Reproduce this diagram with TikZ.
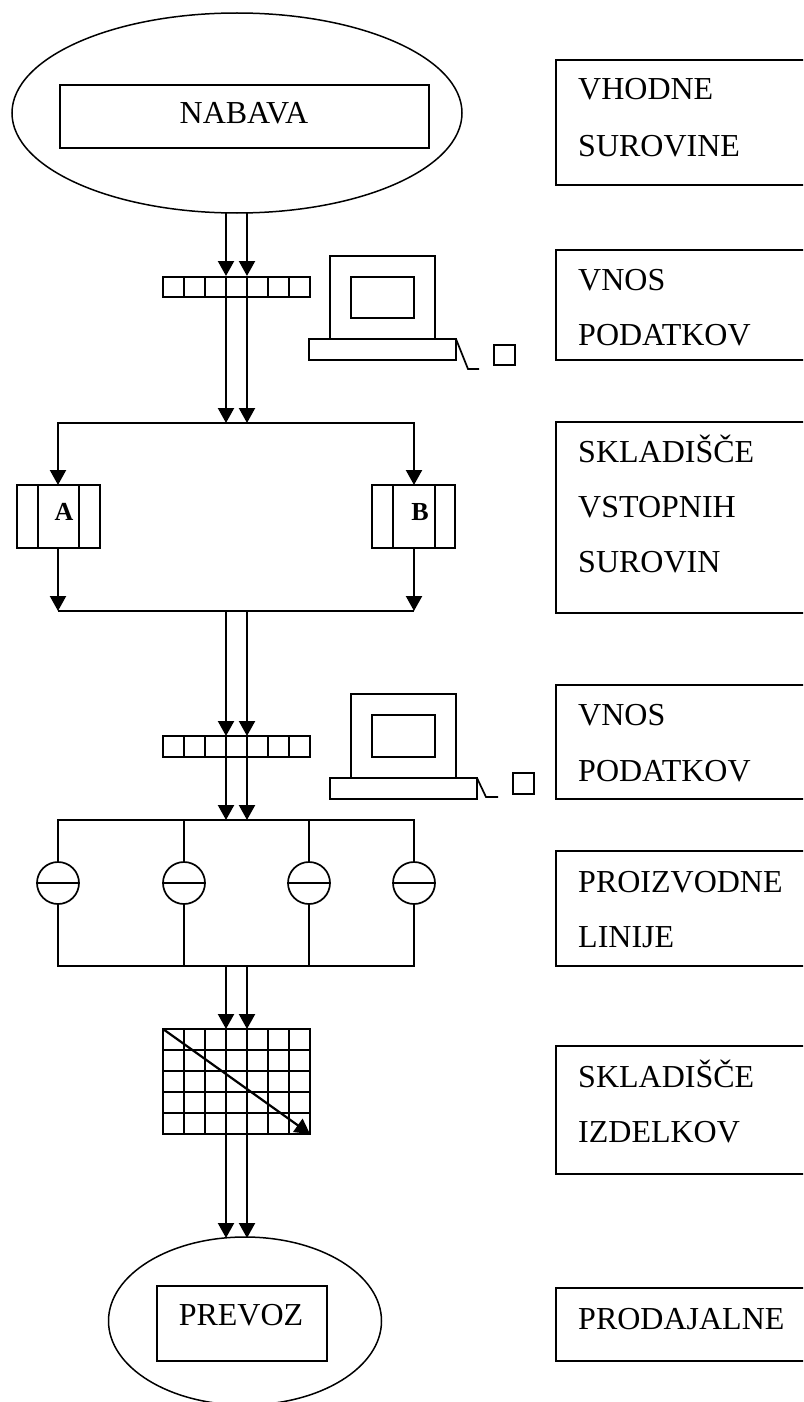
\documentclass[tikz,border=0pt]{standalone}
\usepackage{fontspec}
\setmainfont{Liberation Serif}
\usetikzlibrary{arrows.meta}
\tikzset{
  x=1pt,y=-1pt,
  line/.style={draw=black,line width=1.7pt},
  thin outline/.style={draw=black,line width=1.5pt},
  flow/.style={draw=black,line width=2.2pt,-{Triangle[length=15pt,width=16pt]}},
  plainflow/.style={draw=black,line width=1.9pt},
  rowlabel/.style={anchor=base west,inner sep=0pt,font=\fontsize{32}{32}\selectfont},
  boxlabel/.style={anchor=base,inner sep=0pt,font=\fontsize{32}{32}\selectfont},
  letter/.style={anchor=base,inner sep=0pt,font=\fontsize{26}{26}\selectfont\bfseries},
  sidebox/.style={line},
}
\begin{document}
\begin{tikzpicture}
\useasboundingbox (0,0) rectangle (803,1402);
\clip (0,0) rectangle (803,1402);
\fill[white] (0,0) rectangle (803,1402);

% top ellipse
\draw[thin outline] (237,113) ellipse [x radius=225,y radius=100];
\draw[line] (60,85) rectangle (429,148);
\node[boxlabel] (nabava) at (244,124) {NABAVA};
\coordinate (a1) at (226,213); \coordinate (a2) at (247,213);

% first bar
\draw[line] (163,277) rectangle (310,297);
\foreach \x in {184,205,226,247,268,289}{\draw[line] (\x,277)--(\x,297);}
\coordinate (b1t) at (226,276); \coordinate (b2t) at (247,276);
\draw[flow] (a1)--(b1t);
\draw[flow] (a2)--(b2t);
\coordinate (b1b) at (226,297); \coordinate (b2b) at (247,297);
\coordinate (c1) at (226,423); \coordinate (c2) at (247,423);
\draw[flow] (b1b)--(c1);
\draw[flow] (b2b)--(c2);

% computer 1
\draw[line] (330,256) rectangle (435,339);
\draw[line] (351,277) rectangle (414,318);
\draw[line] (309,339) rectangle (456,360);
\draw[line] (456,339)--(468,369)--(479,369);
\draw[line] (494,345) rectangle (515,365);

% split
\coordinate (la) at (58,423); \coordinate (lb) at (414,423);
\coordinate (ta) at (58,485); \coordinate (tb) at (414,485);
\draw[plainflow,line cap=rect] (la)--(lb);
\draw[flow] (la)--(ta);
\draw[flow] (lb)--(tb);

% A
\draw[line] (17,485) rectangle (100,548);
\draw[line] (38,485)--(38,548);
\draw[line] (79,485)--(79,548);
\node[letter] (A) at (64,520) {A};
% B
\draw[line] (372,485) rectangle (455,548);
\draw[line] (393,485)--(393,548);
\draw[line] (435,485)--(435,548);
\node[letter] (B) at (420,520) {B};

\coordinate (ab) at (58,548); \coordinate (bb) at (414,548);
\coordinate (mA) at (58,611); \coordinate (mB) at (414,611);
\draw[flow] (ab)--(mA);
\draw[flow] (bb)--(mB);
\draw[plainflow] (mA)--(mB);

% second bar
\coordinate (d1) at (226,611); \coordinate (d2) at (247,611);
\coordinate (e1) at (226,736); \coordinate (e2) at (247,736);
\draw[flow] (d1)--(e1);
\draw[flow] (d2)--(e2);
\draw[line] (163,736) rectangle (310,757);
\foreach \x in {184,205,226,247,268,289}{\draw[line] (\x,736)--(\x,757);}
\coordinate (f1) at (226,757); \coordinate (f2) at (247,757);
\coordinate (g1) at (226,820); \coordinate (g2) at (247,820);
\draw[flow] (f1)--(g1);
\draw[flow] (f2)--(g2);

% computer 2
\draw[line] (351,694) rectangle (456,778);
\draw[line] (372,715) rectangle (435,757);
\draw[line] (330,778) rectangle (477,799);
\draw[line] (477,778)--(486,797)--(498,797);
\draw[line] (513,773) rectangle (534,794);

% lines
\draw[line] (58,820) rectangle (414,966);
\foreach \x in {184,309}{\draw[line] (\x,820)--(\x,966);}
\foreach \x/\n in {58/c1,184/c2,309/c3,414/c4}{
  \node[line,circle,fill=white,minimum size=42pt,inner sep=0pt] (\n) at (\x,883) {};
  \draw[line] (\n.west)--(\n.east);
}

% grid
\coordinate (h1) at (226,966); \coordinate (h2) at (247,966);
\coordinate (i1) at (226,1029); \coordinate (i2) at (247,1029);
\draw[flow] (h1)--(i1);
\draw[flow] (h2)--(i2);
\draw[line] (163,1029) rectangle (310,1134);
\foreach \x in {184,205,226,247,268,289}{\draw[line] (\x,1029)--(\x,1134);}
\foreach \y in {1050,1071,1092,1113}{\draw[line] (163,\y)--(310,\y);}
\coordinate (gs) at (163,1029); \coordinate (ge) at (310,1134);
\draw[flow] (gs)--(ge);
\coordinate (j1) at (226,1134); \coordinate (j2) at (247,1134);
\coordinate (k1) at (226,1238); \coordinate (k2) at (247,1238);
\draw[flow] (j1)--(k1);
\draw[flow] (j2)--(k2);

% bottom ellipse
\draw[thin outline] (245,1321) ellipse [x radius=136.5,y radius=84];
\draw[line] (157,1286) rectangle (327,1361);
\node[boxlabel] (prevoz) at (241,1325) {PREVOZ};

% right column
\draw[sidebox] (556,60) rectangle (810,185);
\node[rowlabel] (t1) at (578,100) {VHODNE};
\node[rowlabel] (t2) at (578,156) {SUROVINE};
\draw[sidebox] (556,250) rectangle (810,360);
\node[rowlabel] (t3) at (578,290) {VNOS};
\node[rowlabel] (t4) at (578,345) {PODATKOV};
\draw[sidebox] (556,422) rectangle (810,613);
\node[rowlabel] (t5) at (578,462) {SKLADIŠČE};
\node[rowlabel] (t6) at (578,517) {VSTOPNIH};
\node[rowlabel] (t7) at (578,572) {SUROVIN};
\draw[sidebox] (556,685) rectangle (810,799);
\node[rowlabel] (t8) at (578,725) {VNOS};
\node[rowlabel] (t9) at (578,781) {PODATKOV};
\draw[sidebox] (556,851) rectangle (810,966);
\node[rowlabel] (t10) at (578,892) {PROIZVODNE};
\node[rowlabel] (t11) at (578,947) {LINIJE};
\draw[sidebox] (556,1046) rectangle (810,1174);
\node[rowlabel] (t12) at (578,1087) {SKLADIŠČE};
\node[rowlabel] (t13) at (578,1142) {IZDELKOV};
\draw[sidebox] (556,1288) rectangle (810,1361);
\node[rowlabel] (t14) at (578,1329) {PRODAJALNE};
\end{tikzpicture}
\end{document}
